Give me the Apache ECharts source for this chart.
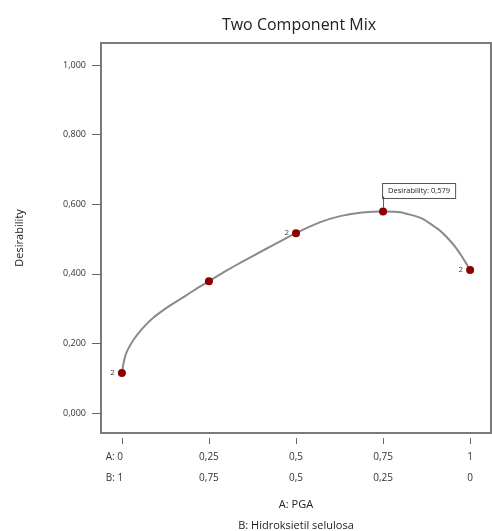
<!DOCTYPE html>
<html><head><meta charset="utf-8">
<script src="https://cdn.jsdelivr.net/npm/echarts@6/dist/echarts.min.js"></script>
<style>html,body{margin:0;padding:0;background:#fff}#c{width:492px;height:531px}</style>
</head><body><div id="c"></div>
<script>
// Design points
var designA = [0, 0.25, 0.5, 0.75, 1];
var designDesir = [0.115, 0.379, 0.517, 0.579, 0.411];
var designCounts = ['2', '', '2', '', '2'];
// Fitted curve
var curveA = [0, 0.005, 0.01, 0.015, 0.025, 0.035, 0.05, 0.07, 0.09, 0.115, 0.14, 0.17, 0.195, 0.22, 0.25, 0.3, 0.35, 0.42, 0.5, 0.57, 0.63, 0.69, 0.75, 0.8, 0.86, 0.91, 0.94, 0.96, 0.975, 0.99, 1];
var curveDesir = [0.115, 0.145, 0.165, 0.178, 0.197, 0.213, 0.233, 0.255, 0.274, 0.293, 0.31, 0.329, 0.345, 0.361, 0.379, 0.409, 0.4375, 0.475, 0.517, 0.5485, 0.5665, 0.576, 0.579, 0.577, 0.56, 0.527, 0.498, 0.474, 0.452, 0.428, 0.411];
// Tick labels
var xTickVals = [0, 0.25, 0.5, 0.75, 1];
var aTicks = ['0', '0,25', '0,5', '0,75', '1'];
var bTicks = ['1', '0,75', '0,5', '0,25', '0'];
var yTickVals = [0, 0.2, 0.4, 0.6, 0.8, 1];
var optimumLabel = 'Desirability: 0,579';

var font = 'Open Sans';
var chart = echarts.init(document.getElementById('c'));
chart.setOption({
  backgroundColor: '#fff',
  animation: false,
  title: {
    text: 'Two Component Mix', left: 294, top: 12, textAlign: 'center',
    textStyle: {fontFamily: font, fontSize: 16, fontWeight: 'normal', color: '#222'}
  },
  grid: {left: 101, top: 43, right: 1, bottom: 98, show: true, borderColor: '#7a7a7a', borderWidth: 2, backgroundColor: '#fff', outerBoundsMode: 'none', containLabel: false},
  xAxis: {
    type: 'value', min: -0.06, max: 1.06, offset: 5,
    splitLine: {show: false},
    axisLine: {show: false, onZero: false},
    axisTick: {show: true, length: 6, customValues: xTickVals, lineStyle: {color: '#666'}},
    axisLabel: {
      customValues: xTickVals, margin: 9, fontFamily: font, fontSize: 10, color: '#333', lineHeight: 21,
      formatter: function (v) {
        var i = -1;
        for (var k = 0; k < xTickVals.length; k++) if (Math.abs(xTickVals[k] - v) < 1e-6) i = k;
        if (i === 0) return '{f|A: ' + aTicks[0] + '\nB: ' + bTicks[0] + '}';
        return aTicks[i] + '\n' + bTicks[i];
      },
      rich: {f: {fontFamily: font, fontSize: 10, color: '#333', lineHeight: 21, padding: [0, 15, 0, 0]}}
    },
    name: 'A: PGA\nB: Hidroksietil selulosa', nameLocation: 'middle', nameGap: 53,
    nameTextStyle: {fontFamily: font, fontSize: 11, color: '#222', lineHeight: 21}
  },
  yAxis: {
    type: 'value', min: -0.057, max: 1.063,
    splitLine: {show: false},
    axisLine: {show: false, onZero: false},
    axisTick: {show: true, length: 9, customValues: yTickVals, lineStyle: {color: '#666'}},
    axisLabel: {
      customValues: yTickVals, margin: 15, fontFamily: font, fontSize: 9, color: '#333',
      formatter: function (v) { return v.toFixed(3).replace('.', ','); }
    },
    name: 'Desirability', nameLocation: 'middle', nameGap: 76,
    nameTextStyle: {fontFamily: font, fontSize: 11, color: '#222'}
  },
  series: [
    {
      type: 'line', smooth: 0.15, showSymbol: false, silent: true,
      data: curveA.map(function (a, i) { return [a, curveDesir[i]]; }),
      lineStyle: {color: '#8a8a8a', width: 2}, z: 2
    },
    {
      type: 'scatter', symbolSize: 8, z: 3,
      itemStyle: {color: '#8b0000', opacity: 1},
      data: designA.map(function (a, i) {
        var d = {value: [a, designDesir[i]]};
        if (designCounts[i]) d.label = {show: true, formatter: designCounts[i]};
        if (i === 3) {
          d.label = {
            show: true, position: 'top', align: 'left', distance: 0,
            formatter: '{box|' + optimumLabel + '}\n{stem|}',
            rich: {
              box: {fontFamily: font, fontSize: 7.5, color: '#222', backgroundColor: '#fff',
                    borderColor: '#555', borderWidth: 1, padding: [3, 5], lineHeight: 11},
              stem: {width: 1, height: 11, backgroundColor: '#555', lineHeight: 11}
            }
          };
        }
        return d;
      }),
      label: {show: false, position: 'left', distance: 3, fontFamily: font, fontSize: 8, color: '#444'}
    }
  ]
});
</script>
</body></html>
